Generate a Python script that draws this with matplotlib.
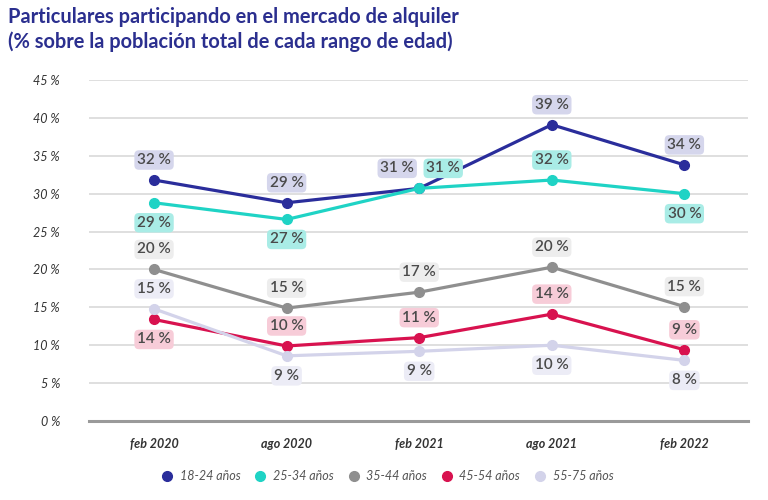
import matplotlib
matplotlib.use("Agg")
import matplotlib.pyplot as plt
from matplotlib.lines import Line2D

categories = ["feb 2020", "ago 2020", "feb 2021", "ago 2021", "feb 2022"]
series_names = ["18-24 años", "25-34 años", "35-44 años", "45-54 años", "55-75 años"]
v_18_24 = [31.8, 28.8, 30.7, 39.1, 33.8]
v_25_34 = [28.8, 26.6, 30.7, 31.8, 30.0]
v_35_44 = [20.0, 14.9, 17.0, 20.3, 15.1]
v_45_54 = [13.4, 9.9, 11.0, 14.1, 9.4]
v_55_75 = [14.8, 8.6, 9.2, 10.0, 8.0]
labels_18_24 = ["32 %", "29 %", "31 %", "39 %", "34 %"]
labels_25_34 = ["29 %", "27 %", "31 %", "32 %", "30 %"]
labels_35_44 = ["20 %", "15 %", "17 %", "20 %", "15 %"]
labels_45_54 = ["14 %", "10 %", "11 %", "14 %", "9 %"]
labels_55_75 = ["15 %", "9 %", "9 %", "10 %", "8 %"]
y_ticks = [0, 5, 10, 15, 20, 25, 30, 35, 40, 45]

values = [v_18_24, v_25_34, v_35_44, v_45_54, v_55_75]
labels = [labels_18_24, labels_25_34, labels_35_44, labels_45_54, labels_55_75]
colors = ["#2a2d9b", "#1fd3c5", "#8f8f8f", "#d8124f", "#d3d3ea"]
box_colors = ["#d5d6ec", "#a9ece6", "#ededed", "#f7ccd8", "#ececf6"]
# label placement offsets (px): (dx, dy)
U, D = 20, -20
offsets = [
    [(0, U), (0, U), (-22, U), (0, U), (0, U)],
    [(0, D), (0, D), (24, U), (0, U), (0, D)],
    [(0, U), (0, U), (0, U), (0, U), (0, U)],
    [(0, D), (0, U), (0, U), (0, U), (0, U)],
    [(0, U), (0, D), (0, D), (0, D), (0, D)],
]

plt.rcParams["font.family"] = ["Lato", "DejaVu Sans"]
fig = plt.figure(figsize=(7.68, 5.0), dpi=100)
ax = fig.add_axes([0.116, 0.158, 0.858, 0.682])

x = list(range(len(categories)))
for vals, col in zip(values, colors):
    ax.plot(x, vals, color=col, lw=2.3, marker="o", ms=7, zorder=3,
            solid_capstyle="round")

for vals, labs, offs, bc in zip(values, labels, offsets, box_colors):
    for xi, v, lab, (dx, dy) in zip(x, vals, labs, offs):
        ax.annotate(lab, (xi, v), xytext=(dx * 0.72, dy * 0.72),
                    textcoords="offset points", ha="center", va="center",
                    fontsize=11, fontweight="semibold", color="#4a4a4a", zorder=5,
                    bbox=dict(boxstyle="round,pad=0.18,rounding_size=0.3",
                              fc=bc, ec="none"))

ax.set_xlim(-0.49, 4.48)
ax.set_ylim(0, 45)
ax.set_yticks(y_ticks)
ax.set_yticklabels([f"{t} %" for t in y_ticks], fontsize=9, style="italic",
                   color="#333333")
ax.set_xticks(x)
ax.set_xticklabels(categories, fontsize=9, style="italic", fontweight="bold",
                   color="#333333")
ax.tick_params(axis="both", length=0)
ax.tick_params(axis="y", pad=21)
ax.tick_params(axis="x", pad=12)
for s in ax.spines.values():
    s.set_visible(False)
for t in y_ticks[1:]:
    ax.axhline(t, color="#d9d9d9", lw=1.2, zorder=1)
ax.axhline(0, color="#9a9a9a", lw=2.2, zorder=2, clip_on=False)

handles = [Line2D([], [], ls="none", marker="o", ms=7, color=c) for c in colors]
fig.legend(handles, series_names, loc="center", bbox_to_anchor=(0.505, 0.048),
           ncol=5, frameon=False, handlelength=0.8, handletextpad=0.6,
           columnspacing=1.2, prop=dict(size=9, style="italic"),
           labelcolor="#555555")

fig.text(0.011, 0.966, "Particulares participando en el mercado de alquiler",
         fontsize=14.4, fontweight="bold", color="#2b2f8f", va="center", ha="left")
fig.text(0.011, 0.916, "(% sobre la población total de cada rango de edad)",
         fontsize=14.4, fontweight="bold", color="#2b2f8f", va="center", ha="left")

fig.savefig("out.png", dpi=100)
